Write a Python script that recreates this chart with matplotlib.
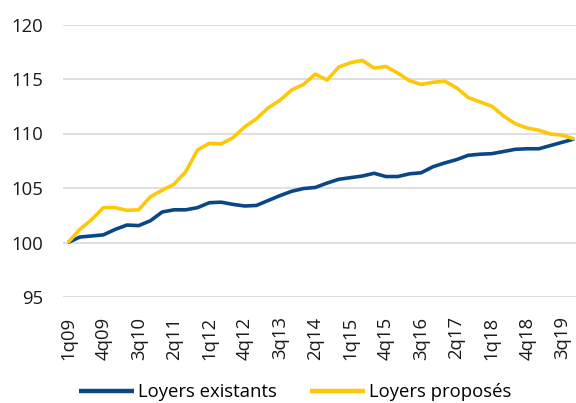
import matplotlib
matplotlib.use("Agg")
import matplotlib.pyplot as plt
import numpy as np

quarters = [f"{q}q{y:02d}" for y in range(9, 20) for q in range(1, 5)]

loyers_existants = [
    100.0, 100.5, 100.6, 100.7, 101.2, 101.6, 101.55, 102.0, 102.8, 103.0,
    103.0, 103.2, 103.65, 103.7, 103.5, 103.35, 103.4, 103.85, 104.3, 104.7,
    104.95, 105.05, 105.45, 105.8, 105.95, 106.1, 106.35, 106.05, 106.05, 106.3,
    106.4, 106.95, 107.3, 107.6, 108.0, 108.1, 108.15, 108.35, 108.55, 108.6,
    108.6, 108.9, 109.2, 109.5,
]

loyers_proposes = [
    100.0, 101.2, 102.1, 103.2, 103.2, 102.95, 103.0, 104.2, 104.8, 105.35,
    106.5, 108.5, 109.1, 109.05, 109.6, 110.6, 111.35, 112.35, 113.05, 114.0,
    114.5, 115.45, 114.9, 116.1, 116.5, 116.7, 116.0, 116.15, 115.55, 114.85,
    114.5, 114.7, 114.8, 114.2, 113.3, 112.9, 112.5, 111.6, 110.9, 110.5,
    110.3, 109.95, 109.85, 109.5,
]

y_ticks = [95, 100, 105, 110, 115, 120]
series_names = ["Loyers existants", "Loyers proposés"]

plt.rcParams['font.family'] = ['Open Sans', 'DejaVu Sans']

fig = plt.figure(figsize=(5.76, 4.03), dpi=100)
ax = fig.add_axes([63/576, 1 - 297/403, 1 - 63/576, (297 - 24.5)/403])

x = np.arange(len(quarters))
ax.plot(x, loyers_existants, color="#0B4784", lw=2.6, label=series_names[0],
        solid_joinstyle='round', solid_capstyle='butt', zorder=3)
ax.plot(x, loyers_proposes, color="#FFC70A", lw=2.6, label=series_names[1],
        solid_joinstyle='round', solid_capstyle='butt', zorder=3)

ax.set_xlim(-0.43, len(quarters) - 0.85)
ax.set_ylim(95, 120)
ax.set_yticks(y_ticks)
ax.set_yticklabels([str(v) for v in y_ticks])
ax.set_xticks(x[::3])
ax.set_xticklabels(quarters[::3], rotation=90)

ax.grid(axis='y', color="#D9D9D9", lw=1.2, zorder=0)
ax.set_axisbelow(True)
for s in ax.spines.values():
    s.set_visible(False)
ax.tick_params(axis='both', length=0, labelsize=13.3, colors="#1a1a1a")
ax.tick_params(axis='y', pad=14)
ax.tick_params(axis='x', pad=14)

leg = fig.legend(loc='center', bbox_to_anchor=(0.512, 0.027), ncol=2, frameon=False,
                 fontsize=13.3, handlelength=3.0, handletextpad=0.2, columnspacing=1.8)
for l in leg.get_lines():
    l.set_linewidth(3.2)

fig.savefig("out.png", dpi=100)
